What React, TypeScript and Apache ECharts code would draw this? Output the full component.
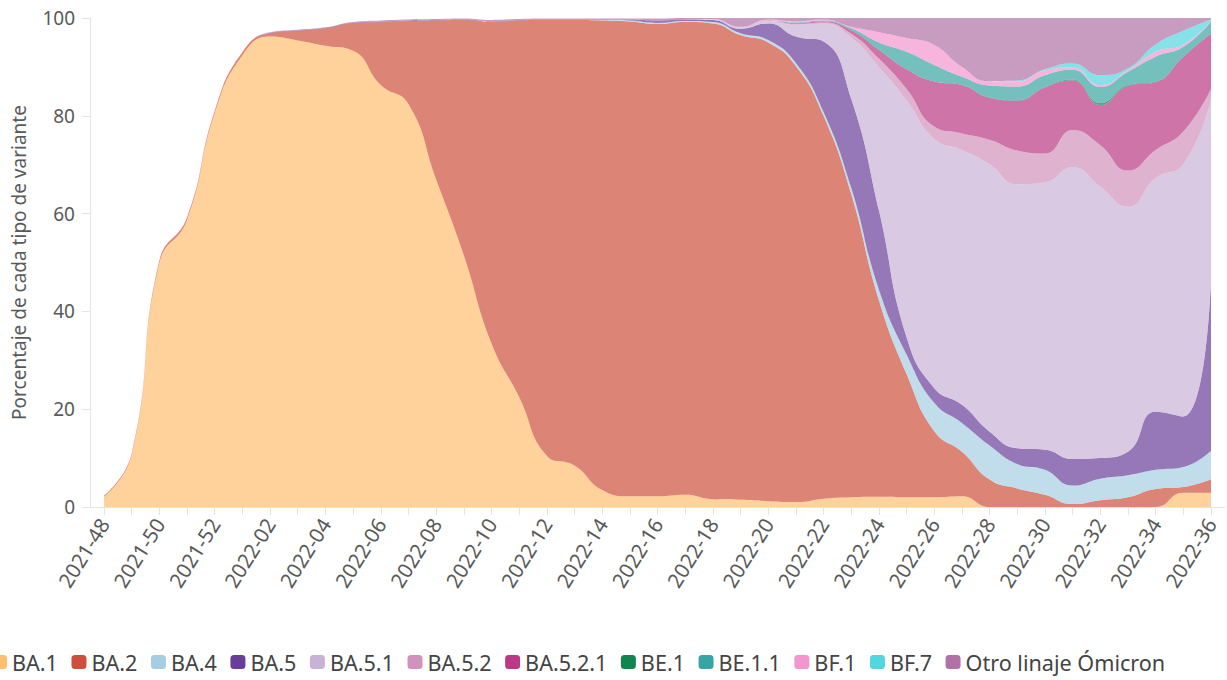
import React, { useEffect, useRef } from "react";
import * as echarts from "echarts";

const weeks = [
  "2021-48", "2021-49", "2021-50", "2021-51", "2021-52",
  "2022-01", "2022-02", "2022-03", "2022-04", "2022-05", "2022-06", "2022-07", "2022-08", "2022-09", "2022-10",
  "2022-11", "2022-12", "2022-13", "2022-14", "2022-15", "2022-16", "2022-17", "2022-18", "2022-19", "2022-20",
  "2022-21", "2022-22", "2022-23", "2022-24", "2022-25", "2022-26", "2022-27", "2022-28", "2022-29", "2022-30",
  "2022-31", "2022-32", "2022-33", "2022-34", "2022-35", "2022-36",
];

const variantNames = ["BA.1", "BA.2", "BA.4", "BA.5", "BA.5.1", "BA.5.2", "BA.5.2.1", "BE.1", "BE.1.1", "BF.1", "BF.7", "Otro linaje Ómicron"];
const variantColors = ["#fdbf6f", "#cd503c", "#a6cee3", "#6a3d9a", "#cab2d6", "#d193bb", "#bb3985", "#11844f", "#37a5a4", "#f495cf", "#52d6df", "#b072a6"];

const BA1 = [2.1, 10.6, 49.9, 58.7, 80.5, 92.4, 96.2, 95.4, 94.3, 93.3, 86.3, 82.4, 67.0, 51.5, 33.5, 22.5, 10.5, 8.5, 3.5, 2.2, 2.2, 2.5, 1.6, 1.5, 1.2, 1.0, 1.7, 2.0, 2.1, 2.0, 2.0, 2.2, 0, 0, 0, 0, 0, 0, 0, 2.9, 2.9];
const BA2 = [0.2, 0.3, 0.5, 0.5, 0.5, 0.6, 0.7, 2.0, 3.6, 5.7, 12.9, 17.0, 32.5, 48.1, 65.7, 77.0, 89.1, 91.1, 96.0, 97.1, 96.6, 96.7, 97.3, 95.0, 93.8, 89.2, 78.3, 62.0, 40.2, 25.2, 13.5, 9.1, 5.6, 3.8, 2.5, 0.6, 1.4, 2.0, 3.7, 1.2, 2.8];
const BA4 = [0, 0, 0, 0, 0, 0, 0, 0, 0, 0, 0, 0, 0, 0, 0, 0, 0, 0, 0.1, 0.2, 0.2, 0.2, 0.3, 0.4, 0.5, 0.6, 0.8, 1.3, 2.2, 4.0, 5.8, 5.9, 7.0, 5.0, 5.1, 3.8, 4.4, 4.5, 3.9, 4.1, 5.8];
const BA5 = [0, 0, 0, 0, 0, 0, 0.1, 0.1, 0.1, 0.1, 0.1, 0.1, 0.1, 0.1, 0.1, 0.1, 0.1, 0.1, 0.1, 0.2, 0.5, 0.3, 0.4, 0.9, 3.4, 5.4, 14.4, 18.2, 16.2, 3.5, 3.0, 3.7, 2.8, 3.2, 4.1, 5.4, 4.2, 4.8, 11.9, 10.3, 34.9];
const BA51 = [0, 0, 0, 0, 0, 0, 0, 0, 0, 0, 0, 0, 0, 0, 0, 0, 0, 0, 0, 0, 0, 0, 0.2, 0.3, 0.5, 2.4, 3.6, 12.5, 29.3, 48.5, 51.0, 52.1, 54.7, 54.0, 54.7, 59.7, 55.5, 50.1, 47.8, 51.6, 36.8];
const BA52 = [0, 0, 0, 0, 0, 0, 0, 0, 0, 0, 0, 0, 0, 0, 0, 0, 0, 0, 0, 0, 0, 0, 0, 0.1, 0.2, 0.2, 0.3, 0.8, 1.7, 2.3, 2.5, 3.4, 5.0, 6.9, 5.9, 7.6, 8.5, 7.4, 5.7, 6.7, 2.3];
const BA521 = [0, 0, 0, 0, 0, 0, 0, 0, 0, 0, 0, 0, 0, 0, 0, 0, 0, 0, 0, 0, 0, 0, 0, 0, 0, 0.2, 0.2, 0.7, 1.8, 4.0, 9.2, 9.9, 8.6, 10.2, 13.5, 10.1, 8.2, 17.3, 13.9, 15.3, 11.4];
const BE1 = [0, 0, 0, 0, 0, 0, 0, 0, 0, 0, 0, 0, 0, 0, 0, 0, 0, 0, 0, 0, 0, 0, 0, 0, 0, 0, 0, 0, 0, 0, 0, 0, 0.1, 0.1, 0.1, 0.2, 0.4, 0.2, 0.1, 0, 0];
const BE11 = [0, 0, 0, 0, 0, 0, 0, 0, 0, 0, 0, 0, 0, 0, 0, 0, 0, 0, 0, 0, 0, 0, 0, 0, 0, 0.1, 0.2, 0.4, 1.5, 3.6, 3.4, 1.7, 2.4, 2.8, 2.4, 2.0, 3.3, 2.7, 5.1, 2.0, 2.4];
const BF1 = [0, 0, 0, 0, 0, 0, 0, 0, 0, 0, 0, 0, 0, 0, 0, 0, 0, 0, 0, 0, 0, 0, 0, 0, 0.1, 0.2, 0.2, 0.3, 2.1, 2.8, 4.1, 2.0, 0.9, 1.0, 1.0, 0.5, 0.4, 0.3, 1.0, 0.5, 0.1];
const BF7 = [0, 0, 0, 0, 0, 0, 0, 0, 0, 0, 0, 0, 0, 0, 0, 0, 0, 0, 0, 0, 0, 0, 0, 0, 0, 0, 0, 0, 0, 0, 0, 0, 0, 0.2, 0.2, 0.8, 2.0, 0.4, 1.5, 2.8, 0.3];
const OTRO = [0, 0, 0, 0, 0, 0, 0.1, 0.1, 0.1, 0.1, 0.2, 0.2, 0.2, 0.2, 0.3, 0.2, 0.2, 0.2, 0.2, 0.2, 0.4, 0.3, 0.2, 1.8, 0.3, 0.7, 0.3, 1.8, 2.9, 4.1, 5.5, 10.0, 12.9, 12.8, 10.5, 9.3, 11.7, 10.3, 5.4, 2.6, 0.3];

const seriesValues = [BA1, BA2, BA4, BA5, BA51, BA52, BA521, BE1, BE11, BF1, BF7, OTRO];

const FONT = "'Noto Sans', sans-serif";
const AXIS_GRAY = "#e4e4e4";
const LABEL_GRAY = "#595959";

export default function App() {
  const ref = useRef<HTMLDivElement>(null);

  useEffect(() => {
    if (!ref.current) return;
    const chart = echarts.init(ref.current, undefined, { renderer: "svg" });

    chart.setOption({
      animation: false,
      grid: [
        { left: 104, right: 16, top: 18, bottom: 173, containLabel: false },
        { left: 90, right: 2, top: 18, bottom: 173, containLabel: false },
      ],
      legend: {
        left: -8,
        top: 651,
        icon: "roundRect",
        itemWidth: 15,
        itemHeight: 14,
        itemGap: 13.5,
        padding: 0,
        selectedMode: false,
        textStyle: { fontSize: 21.6, lineHeight: 22, color: "#444", fontFamily: FONT },
        data: variantNames,
      },
      xAxis: [
        {
          type: "category",
          gridIndex: 0,
          data: weeks,
          boundaryGap: false,
          axisLine: { show: false },
          axisTick: { show: true, length: 8, interval: 0, lineStyle: { color: AXIS_GRAY } },
          axisLabel: {
            interval: 1,
            rotate: 58,
            margin: 13,
            fontSize: 20.5,
            color: LABEL_GRAY,
            fontFamily: FONT,
          },
          splitLine: { show: false },
        },
        {
          type: "value",
          gridIndex: 1,
          min: 0,
          max: 1,
          axisLine: { show: true, lineStyle: { color: AXIS_GRAY } },
          axisTick: { show: false },
          axisLabel: { show: false },
          splitLine: { show: false },
        },
      ],
      yAxis: [
        {
          type: "value",
          gridIndex: 0,
          min: 0,
          max: 100,
          interval: 20,
          show: false,
          splitLine: { show: false },
        },
        {
          type: "value",
          gridIndex: 1,
          min: 0,
          max: 100,
          interval: 20,
          name: "Porcentaje de cada tipo de variante",
          nameLocation: "middle",
          nameGap: 62,
          nameTextStyle: { fontSize: 19, color: LABEL_GRAY, fontFamily: FONT },
          axisLine: { show: true, lineStyle: { color: AXIS_GRAY } },
          axisTick: { show: true, length: 8, lineStyle: { color: AXIS_GRAY } },
          axisLabel: { margin: 15, fontSize: 19, color: LABEL_GRAY, fontFamily: FONT },
          splitLine: { show: false },
        },
      ],
      series: variantNames.map((name, k) => ({
        name,
        type: "line",
        xAxisIndex: 0,
        yAxisIndex: 0,
        stack: "total",
        smooth: 0.5,
        showSymbol: false,
        symbol: "none",
        lineStyle: { width: 0 },
        itemStyle: { color: variantColors[k] },
        areaStyle: { color: variantColors[k], opacity: 0.7 },
        data: seriesValues[k],
      })),
    });
    return () => chart.dispose();
  }, []);

  return (
    <div
      ref={ref}
      style={{ position: "absolute", left: 0, top: 0, width: 1227, height: 680 }}
    />
  );
}
